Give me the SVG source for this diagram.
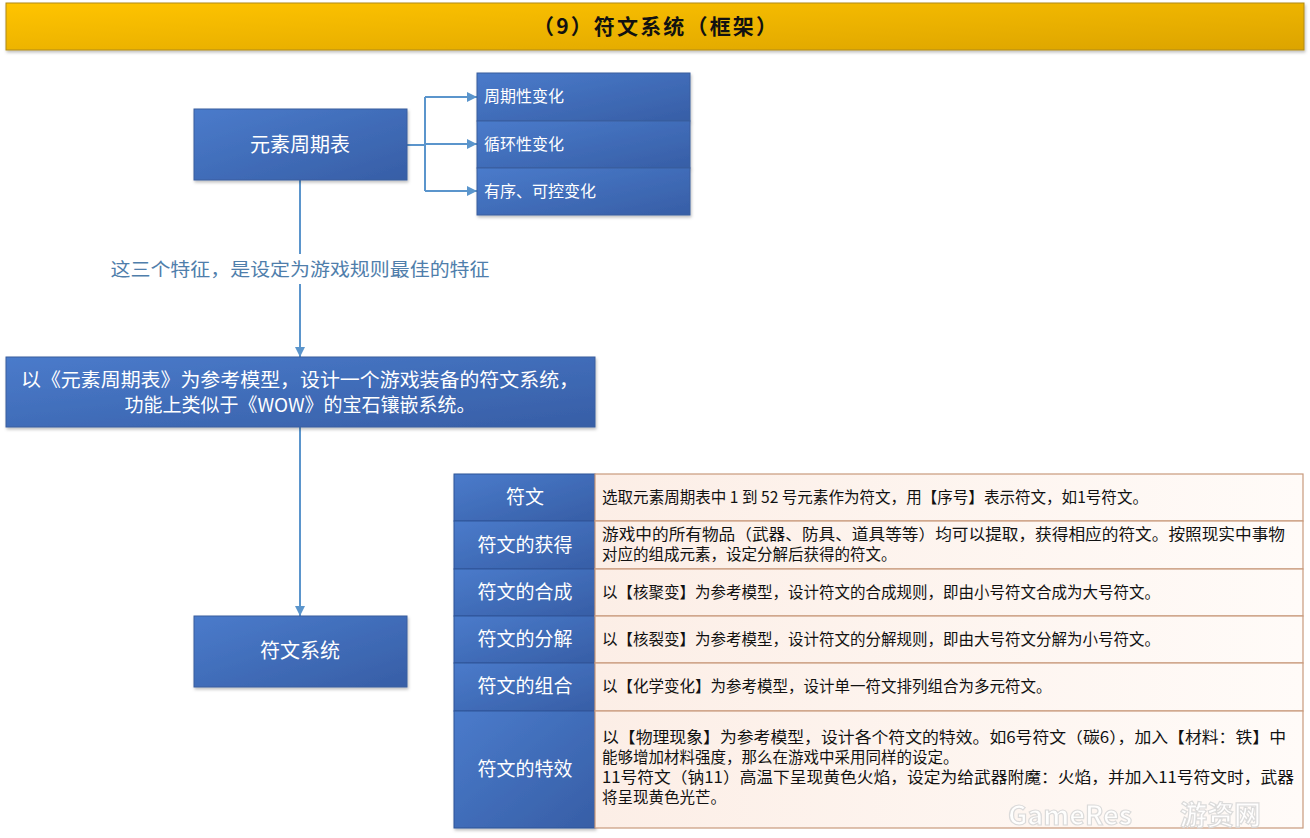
<svg xmlns="http://www.w3.org/2000/svg" width="1310" height="838" viewBox="0 0 1310 838">
<defs>
<linearGradient id="gold" x1="0" y1="0" x2="1" y2="1">
<stop offset="0" stop-color="#FFC400"/><stop offset="1" stop-color="#DCA400"/>
</linearGradient>
<linearGradient id="blue" x1="0" y1="0" x2="1" y2="1">
<stop offset="0" stop-color="#4A7BCB"/><stop offset="1" stop-color="#375EA6"/>
</linearGradient>
<linearGradient id="peach" x1="0" y1="0" x2="1" y2="0">
<stop offset="0" stop-color="#FCEEE6"/><stop offset="1" stop-color="#FFFBF8"/>
</linearGradient>
<filter id="sh" x="-10%" y="-10%" width="120%" height="130%">
<feDropShadow dx="1" dy="2" stdDeviation="1.5" flood-color="#000" flood-opacity="0.25"/>
</filter>
<marker id="arr" viewBox="0 0 10 10" refX="10" refY="5" markerWidth="10" markerHeight="10" markerUnits="userSpaceOnUse" orient="auto">
<path d="M0,0 L10,5 L0,10 z" fill="#5B95CC"/>
</marker>
</defs>
<style>
.box{fill:url(#blue);stroke:#3A5E9E;stroke-width:1}
.wt{fill:#fff;font-family:"Noto Sans CJK SC","Microsoft YaHei",sans-serif}
.bt{fill:#111;font-family:"Noto Sans CJK SC","Microsoft YaHei",sans-serif;font-size:15.5px}
.cell{fill:url(#peach);stroke:#C99A7C;stroke-width:1.2}
.hd{fill:url(#blue);stroke:#2F5597;stroke-width:1}
.ln{stroke:#5B95CC;stroke-width:2;fill:none}
</style>
<rect width="1310" height="838" fill="#fff"/>
<g id="title">
<rect x="6" y="3" width="1298" height="47" fill="url(#gold)" stroke="#B08A10" stroke-width="1" filter="url(#sh)"/>
<text x="655" y="34" text-anchor="middle" font-family="'Noto Sans CJK SC','Microsoft YaHei',sans-serif" font-size="21" font-weight="bold" fill="#111" textLength="244" lengthAdjust="spacing">（9）符文系统（框架）</text>
</g>
<g id="connectors">
<polyline class="ln" points="407,145 425,145"/>
<polyline class="ln" points="425,97 425,191"/>
<line class="ln" x1="425" y1="97" x2="477" y2="97" marker-end="url(#arr)"/>
<line class="ln" x1="425" y1="144" x2="477" y2="144" marker-end="url(#arr)"/>
<line class="ln" x1="425" y1="191" x2="477" y2="191" marker-end="url(#arr)"/>
<line class="ln" x1="300" y1="180" x2="300" y2="254"/>
<line class="ln" x1="300" y1="284" x2="300" y2="357" marker-end="url(#arr)"/>
<line class="ln" x1="300" y1="427" x2="300" y2="616" marker-end="url(#arr)"/>
<text x="300" y="276" text-anchor="middle" font-family="'Noto Sans CJK SC','Microsoft YaHei',sans-serif" font-size="18" fill="#4F7EAB" textLength="379" lengthAdjust="spacingAndGlyphs">这三个特征，是设定为游戏规则最佳的特征</text>
</g>
<g id="node-periodic">
<rect class="box" x="194" y="109" width="213" height="71" filter="url(#sh)"/>
<text class="wt" x="300" y="152" text-anchor="middle" font-size="20">元素周期表</text>
</g>
<g id="node-features">
<rect class="box" x="477" y="73" width="213" height="48" filter="url(#sh)"/>
<rect class="box" x="477" y="121" width="213" height="47" filter="url(#sh)"/>
<rect class="box" x="477" y="168" width="213" height="47" filter="url(#sh)"/>
<text class="wt" x="484" y="102" font-size="16">周期性变化</text>
<text class="wt" x="484" y="150" font-size="16">循环性变化</text>
<text class="wt" x="484" y="197" font-size="16">有序、可控变化</text>
</g>
<g id="node-model">
<rect class="box" x="6" y="357" width="589" height="70" filter="url(#sh)"/>
<text class="wt" x="300" y="387" text-anchor="middle" font-size="19" textLength="558" lengthAdjust="spacingAndGlyphs">以《元素周期表》为参考模型，设计一个游戏装备的符文系统，</text>
<text class="wt" x="300" y="412" text-anchor="middle" font-size="19">功能上类似于《WOW》的宝石镶嵌系统。</text>
</g>
<g id="node-rune-system">
<rect class="box" x="194" y="616" width="213" height="71" filter="url(#sh)"/>
<text class="wt" x="300" y="658" text-anchor="middle" font-size="20">符文系统</text>
</g>
<g id="table">
<g filter="url(#sh)">
<rect class="hd" x="454" y="474" width="141" height="47"/>
<rect class="hd" x="454" y="521" width="141" height="48"/>
<rect class="hd" x="454" y="569" width="141" height="47"/>
<rect class="hd" x="454" y="616" width="141" height="47"/>
<rect class="hd" x="454" y="663" width="141" height="48"/>
<rect class="hd" x="454" y="711" width="141" height="117"/>
</g>
<rect class="cell" x="595" y="474" width="708" height="47"/>
<rect class="cell" x="595" y="521" width="708" height="48"/>
<rect class="cell" x="595" y="569" width="708" height="47"/>
<rect class="cell" x="595" y="616" width="708" height="47"/>
<rect class="cell" x="595" y="663" width="708" height="48"/>
<rect class="cell" x="595" y="711" width="708" height="117"/>
<g class="wt" font-size="19" text-anchor="middle">
<text x="525" y="504">符文</text>
<text x="525" y="552">符文的获得</text>
<text x="525" y="599">符文的合成</text>
<text x="525" y="646">符文的分解</text>
<text x="525" y="693">符文的组合</text>
<text x="525" y="776">符文的特效</text>
</g>
<text class="bt" x="602" y="503" textLength="546" lengthAdjust="spacingAndGlyphs">选取元素周期表中 1 到 52 号元素作为符文，用【序号】表示符文，如1号符文。</text>
<text class="bt" x="602" y="540" textLength="683" lengthAdjust="spacingAndGlyphs">游戏中的所有物品（武器、防具、道具等等）均可以提取，获得相应的符文。按照现实中事物</text>
<text class="bt" x="602" y="560">对应的组成元素，设定分解后获得的符文。</text>
<text class="bt" x="602" y="598">以【核聚变】为参考模型，设计符文的合成规则，即由小号符文合成为大号符文。</text>
<text class="bt" x="602" y="645">以【核裂变】为参考模型，设计符文的分解规则，即由大号符文分解为小号符文。</text>
<text class="bt" x="602" y="692">以【化学变化】为参考模型，设计单一符文排列组合为多元符文。</text>
<text class="bt" x="602" y="743" textLength="684" lengthAdjust="spacingAndGlyphs">以【物理现象】为参考模型，设计各个符文的特效。如6号符文（碳6），加入【材料：铁】中</text>
<text class="bt" x="602" y="763">能够增加材料强度，那么在游戏中采用同样的设定。</text>
<text class="bt" x="602" y="783" textLength="692" lengthAdjust="spacingAndGlyphs">11号符文（钠11）高温下呈现黄色火焰，设定为给武器附魔：火焰，并加入11号符文时，武器</text>
<text class="bt" x="602" y="803">将呈现黄色光芒。</text>
</g>
<g id="watermark" opacity="0.9">
<text x="1008" y="825" font-family="'Noto Sans CJK SC',sans-serif" font-size="27" font-weight="bold" fill="#fff" stroke="#D8D8D8" stroke-width="1.2">GameRes</text>
<text x="1180" y="825" font-family="'Noto Sans CJK SC',sans-serif" font-size="27" font-weight="bold" fill="#fff" stroke="#D8D8D8" stroke-width="1.2">游资网</text>
</g>
</svg>
